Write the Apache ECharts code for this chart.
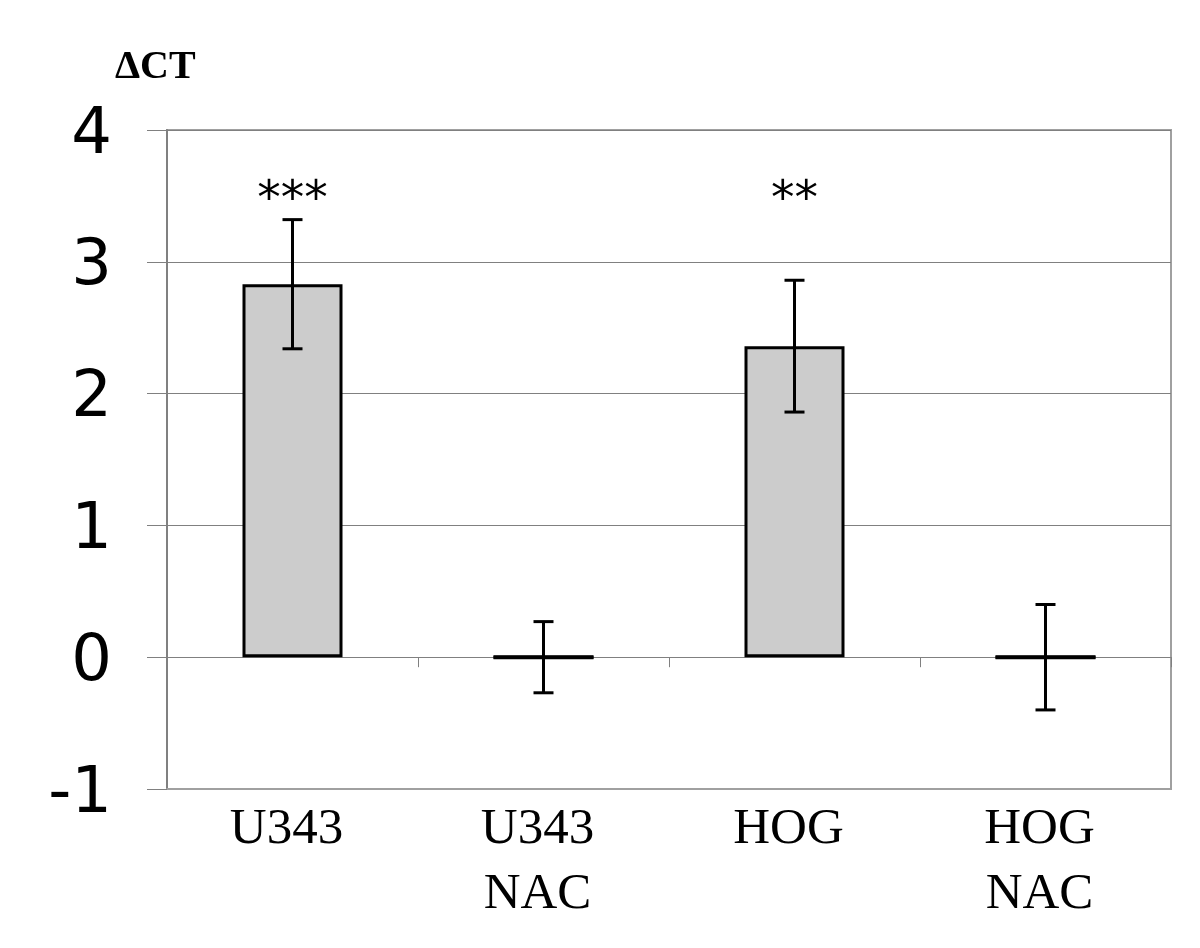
<!DOCTYPE html>
<html><head><meta charset="utf-8">
<script src="https://cdn.jsdelivr.net/npm/echarts@6/dist/echarts.min.js"></script>
<style>html,body{margin:0;padding:0;background:#fff}#c{width:1200px;height:948px}</style>
</head><body><div id="c"></div>
<script>
const categories = ['U343', 'U343\nNAC', 'HOG', 'HOG\nNAC'];
const means = [2.83, 0, 2.36, 0];
const errors = [0.49, 0.27, 0.50, 0.40];
const stars = ['***', '', '**', ''];
const starLevel = 3.46;
const yTicks = [-1, 0, 1, 2, 3, 4];

const chart = echarts.init(document.getElementById('c'));
chart.setOption({
  backgroundColor: '#fff',
  animation: false,
  grid: { left: 167, right: 29, top: 130, bottom: 159, show: true, borderColor: '#a0a0a0', borderWidth: 2, backgroundColor: 'transparent' },
  graphic: [{ type: 'text', left: 115, top: 48, style: { text: 'ΔCT', font: 'bold 40px "Liberation Serif", serif', fill: '#000' } }],
  xAxis: [{
    type: 'category', data: categories, position: 'bottom',
    axisLine: { show: true, onZero: false, lineStyle: { color: '#a0a0a0', width: 2 } },
    axisTick: { show: false },
    axisLabel: { color: '#000', fontFamily: '"Liberation Serif", serif', fontSize: 51, lineHeight: 65, margin: 8, padding: [0, 12, 0, 0] }
  }, {
    type: 'category', data: categories, position: 'bottom',
    axisLine: { show: true, onZero: true, lineStyle: { color: '#808080', width: 1 } },
    axisTick: { show: true, length: 10, lineStyle: { color: '#808080', width: 1 } },
    axisLabel: { show: false }
  }],
  yAxis: {
    type: 'value', min: yTicks[0], max: yTicks[yTicks.length - 1], interval: 1,
    axisLine: { show: true, lineStyle: { color: '#808080', width: 2 } },
    axisTick: { show: true, length: 20, lineStyle: { color: '#808080', width: 1 } },
    splitLine: { show: true, lineStyle: { color: '#808080', width: 1 } },
    axisLabel: {
      margin: 55,
      formatter: '{a|{value}}',
      rich: { a: { color: '#000', fontFamily: '"DejaVu Sans", sans-serif', fontSize: 64, padding: [12, 0, 0, 0] } }
    }
  },
  series: [{
    type: 'bar', data: means, barWidth: 100, xAxisIndex: 0,
    itemStyle: { color: '#cccccc', borderColor: '#000', borderWidth: 3 }
  }, {
    type: 'custom', xAxisIndex: 0,
    data: means.map((m, i) => [i, m, errors[i]]),
    renderItem: function (params, api) {
      const i = api.value(0), m = api.value(1), e = api.value(2);
      const top = api.coord([i, m + e]);
      const bot = api.coord([i, m - e]);
      const mid = api.coord([i, m]);
      const cap = 10;
      const ls = { stroke: '#000', lineWidth: 3 };
      const children = [
        { type: 'line', shape: { x1: top[0], y1: top[1], x2: bot[0], y2: bot[1] }, style: ls },
        { type: 'line', shape: { x1: top[0] - cap, y1: top[1], x2: top[0] + cap, y2: top[1] }, style: ls },
        { type: 'line', shape: { x1: bot[0] - cap, y1: bot[1], x2: bot[0] + cap, y2: bot[1] }, style: ls }
      ];
      if (m === 0) {
        children.push({ type: 'line', shape: { x1: mid[0] - 50, y1: mid[1], x2: mid[0] + 50, y2: mid[1] }, style: { stroke: '#000', lineWidth: 4 } });
      }
      const s = stars[params.dataIndex];
      if (s) {
        const sp = api.coord([i, starLevel]);
        children.push({ type: 'text', style: { text: s, x: sp[0], y: sp[1], align: 'center', verticalAlign: 'middle', font: '47px "DejaVu Sans", sans-serif', fill: '#000' } });
      }
      return { type: 'group', children: children };
    },
    z: 5
  }]
});
</script></body></html>
